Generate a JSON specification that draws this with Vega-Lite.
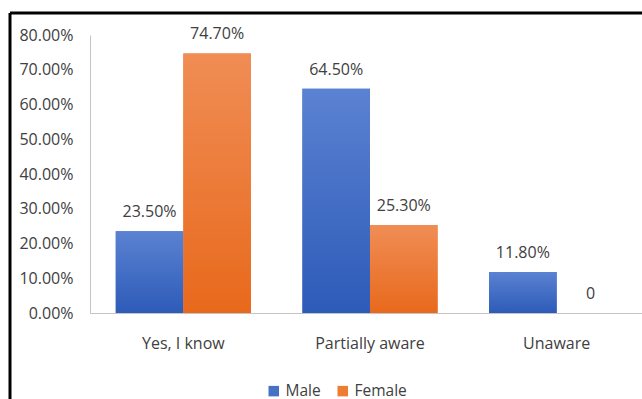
{
  "$schema": "https://vega.github.io/schema/vega-lite/v6.json",
  "width": 632,
  "height": 386,
  "autosize": "none",
  "padding": {"left": 10, "top": 13, "right": 0, "bottom": 0},
  "background": "white",
  "config": {
    "font": "Open Sans",
    "view": {"stroke": "#000000", "strokeWidth": 3, "strokeDash": [632, 1018, 386, 0]},
    "axis": {"labelColor": "#404040", "labelFontSize": 16, "domainColor": "#c4c4c4", "grid": false, "ticks": false, "tickSize": 0, "title": null}
  },
  "data": {
    "values": [
      {"awareness": "Yes, I know", "gender": "Male", "share": 0.235},
      {"awareness": "Yes, I know", "gender": "Female", "share": 0.747},
      {"awareness": "Partially aware", "gender": "Male", "share": 0.645},
      {"awareness": "Partially aware", "gender": "Female", "share": 0.253},
      {"awareness": "Unaware", "gender": "Male", "share": 0.118},
      {"awareness": "Unaware", "gender": "Female", "share": 0}
    ]
  },
  "encoding": {
    "x": {
      "field": "awareness",
      "type": "nominal",
      "sort": ["Yes, I know", "Partially aware", "Unaware"],
      "scale": {"range": [80, 640], "paddingInner": 0.276, "paddingOuter": 0.138},
      "axis": {"orient": "bottom", "offset": -86, "labelPadding": 22, "labelAngle": 0}
    },
    "xOffset": {"field": "gender", "type": "nominal", "sort": ["Male", "Female"]},
    "y": {
      "field": "share",
      "type": "quantitative",
      "scale": {"domain": [0, 0.8], "range": [300, 22], "nice": false},
      "axis": {"orient": "left", "offset": -80, "format": ".2%", "values": [0, 0.1, 0.2, 0.3, 0.4, 0.5, 0.6, 0.7, 0.8], "labelPadding": 17}
    }
  },
  "layer": [
    {
      "mark": {"type": "bar"},
      "encoding": {
        "fill": {
          "field": "gender",
          "type": "nominal",
          "scale": {"domain": ["Male", "Female"], "range": ["#4472c4", "#ed7d31"]},
          "legend": {
            "orient": "none",
            "legendX": 256,
            "legendY": 370,
            "direction": "horizontal",
            "title": null,
            "symbolType": "square",
            "symbolSize": 110,
            "symbolStrokeWidth": 0,
            "labelFontSize": 15.5,
            "labelColor": "#404040",
            "labelOffset": 4,
            "columnPadding": 14,
            "padding": 0
          }
        }
      }
    },
    {
      "transform": [{"filter": "datum.gender === 'Male'"}],
      "mark": {
        "type": "bar",
        "fill": {"gradient": "linear", "x1": 0, "y1": 0, "x2": 0, "y2": 1, "stops": [{"offset": 0, "color": "#5b82d2"}, {"offset": 1, "color": "#2d5bb8"}]}
      }
    },
    {
      "transform": [{"filter": "datum.gender === 'Female'"}],
      "mark": {
        "type": "bar",
        "fill": {"gradient": "linear", "x1": 0, "y1": 0, "x2": 0, "y2": 1, "stops": [{"offset": 0, "color": "#f08d55"}, {"offset": 1, "color": "#e8691c"}]}
      }
    },
    {
      "mark": {"type": "text", "baseline": "alphabetic", "dy": -14, "fontSize": 16, "color": "#404040"},
      "encoding": {
        "text": {
          "condition": {"test": "datum.share === 0", "value": "0"},
          "field": "share",
          "type": "quantitative",
          "format": ".2%"
        }
      }
    }
  ]
}
